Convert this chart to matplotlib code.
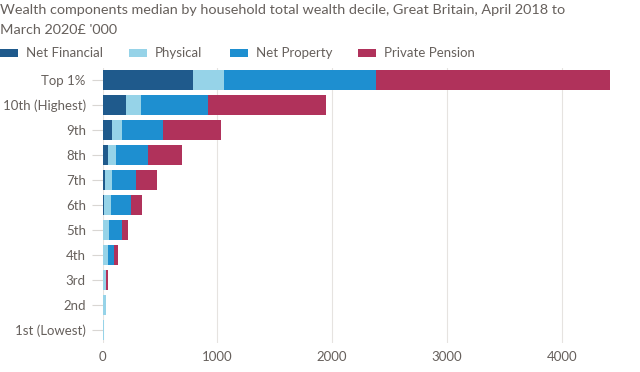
import matplotlib
matplotlib.use("Agg")
import matplotlib.pyplot as plt
from matplotlib.patches import Rectangle
import numpy as np

categories = ["Top 1%", "10th (Highest)", "9th", "8th", "7th", "6th", "5th", "4th", "3rd", "2nd", "1st (Lowest)"]
net_financial = [790, 205, 85, 45, 25, 15, 8, 3, 1, 0, 0]
physical = [270, 130, 85, 70, 60, 55, 45, 42, 30, 30, 15]
net_property = [1320, 585, 355, 285, 210, 175, 115, 53, 2, 0, 0]
private_pension = [2040, 1030, 510, 290, 180, 100, 57, 34, 18, 0, 0]
series_names = ["Net Financial", "Physical", "Net Property", "Private Pension"]
colors = ["#1f5a8c", "#96d3e8", "#1e8fd0", "#b0325b"]
xticks = [0, 1000, 2000, 3000, 4000]

plt.rcParams['font.family'] = ['Lato', 'DejaVu Sans']
grey = "#66605c"

W, H = 640, 372
fig = plt.figure(figsize=(W / 100, H / 100), dpi=100)
ax = fig.add_axes([102.5 / W, 1 - 342.5 / H, 511 / W, 275 / H])

y = np.arange(len(categories))
left = np.zeros(len(categories))
for name, vals, c in zip(series_names, [net_financial, physical, net_property, private_pension], colors):
    vals = np.array(vals, dtype=float)
    ax.barh(y, vals, left=left, height=0.8, color=c, label=name,
            edgecolor="none", zorder=3)
    left = left + vals

ax.set_ylim(len(categories) - 0.5, -0.5)
ax.set_xlim(0, 4450)
ax.set_yticks(y)
ax.set_yticklabels(categories)
ax.set_xticks(xticks)
ax.set_xticklabels([str(v) for v in xticks])
ax.grid(axis="x", color="#e6e3e0", linewidth=0.8, zorder=0)
for s in ax.spines.values():
    s.set_visible(False)
ax.tick_params(axis="y", length=8, color="#d9d6d3", width=0.8, pad=4, labelsize=9.5, labelcolor=grey)
ax.tick_params(axis="x", length=0, pad=6, labelsize=9.5, labelcolor=grey)

title_lines = ["Wealth components median by household total wealth decile, Great Britain, April 2018 to",
               "March 2020£ '000"]
for i, line in enumerate(title_lines):
    fig.text(0, 1 - (10 + 20 * i) / H, line, ha="left", va="center",
             fontsize=10.4, color=grey)

# legend drawn manually
sw_x = [0, 129, 230, 358]
tx_x = [26, 155, 256, 384]
ly = 53
for name, c, sx, tx in zip(series_names, colors, sw_x, tx_x):
    fig.patches.append(Rectangle((sx / W, 1 - (ly + 4) / H), 18 / W, 8 / H,
                                 transform=fig.transFigure, facecolor=c, edgecolor="none"))
    fig.text(tx / W, 1 - ly / H, name, ha="left", va="center", fontsize=9.5, color=grey)

fig.savefig("out.png", dpi=100)
